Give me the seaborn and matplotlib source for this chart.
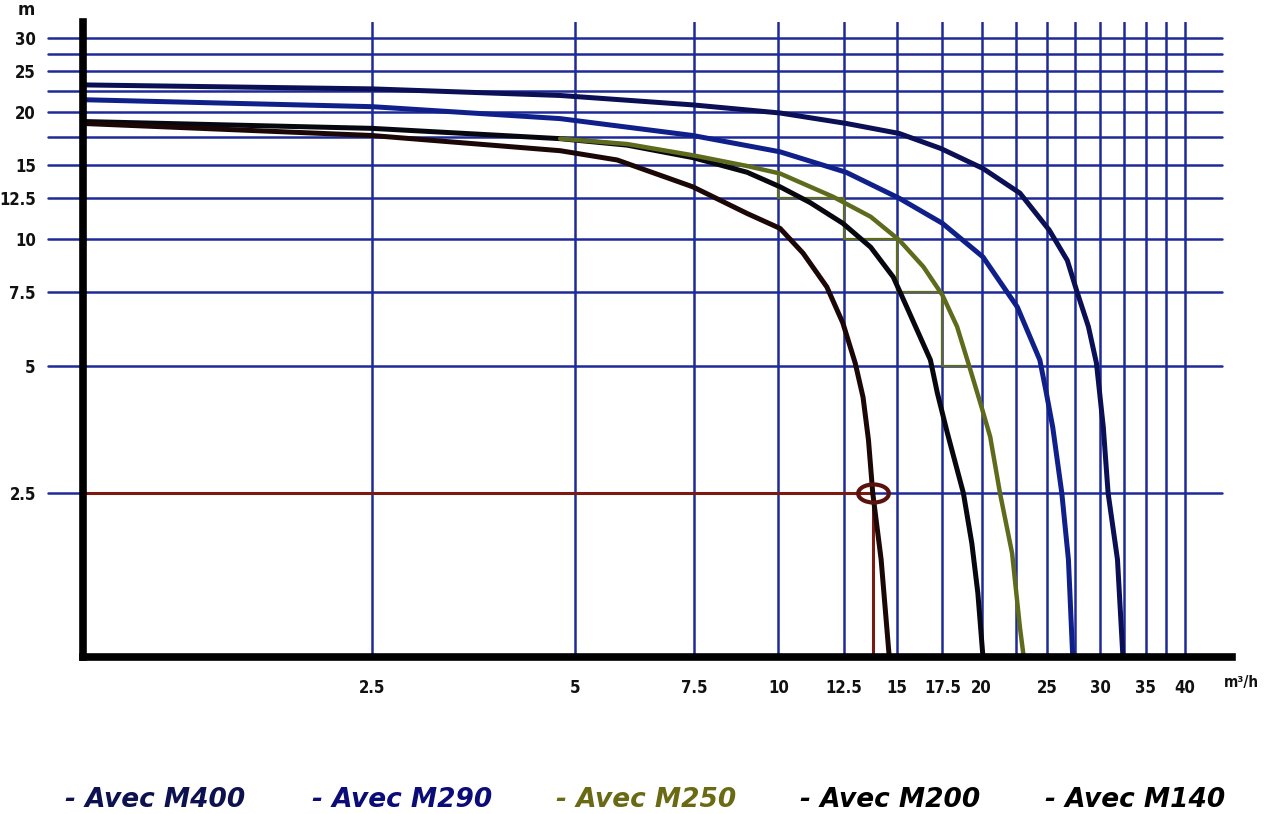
import numpy as np
import pandas as pd
import matplotlib
matplotlib.use("Agg")
import matplotlib.pyplot as plt
import seaborn as sns
from matplotlib.markers import MarkerStyle
from matplotlib.transforms import Affine2D
from matplotlib.ticker import NullLocator, FixedLocator, FixedFormatter

# ---------------- data ----------------
models = ["M400", "M290", "M250", "M200", "M140"]

q_m400 = [0.93, 2.5, 4.75, 7.47, 10.06, 12.6, 15.1, 17.4, 20.1, 22.8, 25.2, 26.8, 27.7, 28.8,
          29.6, 30.3, 30.8, 31.8, 32.4]
h_m400 = [23.2, 22.7, 21.9, 20.8, 19.9, 18.8, 17.8, 16.4, 14.7, 12.85, 10.5, 8.9, 7.5, 6.2,
          5.08, 3.58, 2.5, 1.74, 1.02]

q_m290 = [0.93, 2.5, 4.75, 7.47, 10.06, 12.6, 15.1, 17.5, 20.1, 22.6, 24.4, 24.9, 25.5,
          26.3, 26.9, 27.3]
h_m290 = [21.4, 20.6, 19.3, 17.6, 16.1, 14.4, 12.5, 10.9, 9.07, 6.9, 5.17, 4.39, 3.58,
          2.5, 1.74, 1.02]

q_m250 = [4.75, 5.97, 7.47, 8.99, 10.06, 12.05, 13.7, 15.1, 16.4, 17.5, 18.4, 19.2, 20.0, 20.6,
          21.3, 22.2, 22.8, 23.1]
h_m250 = [17.3, 16.8, 15.8, 14.9, 14.3, 12.6, 11.3, 9.95, 8.6, 7.37, 6.2, 4.97, 4.0, 3.4,
          2.5, 1.80, 1.2, 1.02]

q_m200 = [0.93, 2.5, 4.75, 5.97, 7.47, 8.99, 10.06, 11.15, 12.46, 13.7, 14.8, 15.5, 16.8, 17.2,
          17.8, 18.8, 19.35, 19.75, 20.1]
h_m200 = [19.0, 18.3, 17.3, 16.7, 15.6, 14.4, 13.3, 12.2, 10.9, 9.57, 8.13, 6.9, 5.17, 4.32,
          3.47, 2.5, 1.90, 1.45, 1.02]

q_m140 = [0.93, 2.5, 4.75, 5.77, 7.47, 8.99, 10.06, 10.88, 11.8, 12.46, 13.0, 13.35, 13.6, 13.8,
          14.2, 14.6]
h_m140 = [18.8, 17.6, 16.2, 15.4, 13.3, 11.5, 10.6, 9.26, 7.7, 6.33, 5.08, 4.22, 3.34, 2.5,
          1.74, 1.02]

# olive construction staircase on the M250 curve
step_q = [10.0, 10.0, 12.5, 12.5, 15.0, 15.0, 17.5, 17.5, 19.2]
step_h = [14.3, 12.5, 12.5, 10.0, 10.0, 7.5, 7.5, 5.0, 5.0]

# duty point read on the M140 curve
duty_q = 13.8
duty_h = 2.5

x_ticks = [2.5, 5, 7.5, 10, 12.5, 15, 17.5, 20, 25, 30, 35, 40]
x_tick_labels = ["2.5", "5", "7.5", "10", "12.5", "15", "17.5", "20", "25", "30", "35", "40"]
x_grid = [2.5, 5, 7.5, 10, 12.5, 15, 17.5, 20, 22.5, 25, 27.5, 30, 32.5, 35, 37.5, 40]
y_ticks = [2.5, 5, 7.5, 10, 12.5, 15, 20, 25, 30]
y_tick_labels = ["2.5", "5", "7.5", "10", "12.5", "15", "20", "25", "30"]
y_grid = [2.5, 5, 7.5, 10, 12.5, 15, 17.5, 20, 22.5, 25, 27.5, 30]

legend_labels = ["- Avec M400", "- Avec M290", "- Avec M250", "- Avec M200", "- Avec M140"]

# ---------------- styling ----------------
line_colors = {"M400": "#0b0f55", "M290": "#10208a", "M250": "#5f6b1c",
               "M200": "#07070f", "M140": "#1c0707"}
legend_colors = ["#0d1150", "#0c0c78", "#6a6a14", "#000000", "#000000"]
grid_color = "#1f2a99"

sns.set_style("white")
plt.rcParams['font.family'] = ['DejaVu Sans']

W, H = 1269, 814
fig = plt.figure(figsize=(W / 100, H / 100), dpi=100)
ax_left, ax_right, ax_top, ax_bottom = 83, 1232, 22, 657
ax = fig.add_axes([ax_left / W, 1 - ax_bottom / H, (ax_right - ax_left) / W, (ax_bottom - ax_top) / H])
ax.set_xscale("log")
ax.set_yscale("log")
ax.set_xlim(0.933, 47.0)
ax.set_ylim(1.022, 32.7)

# grid lines
hx_min = (48 - ax_left) / (ax_right - ax_left)
hx_max = (1222 - ax_left) / (ax_right - ax_left)
for yv in y_grid:
    ax.axhline(yv, xmin=hx_min, xmax=hx_max, color=grid_color, lw=1.8, zorder=1, clip_on=False)
for xv in x_grid:
    ax.axvline(xv, color=grid_color, lw=1.8, zorder=1)

# curves
frames = []
for name, qs, hs in [("M400", q_m400, h_m400), ("M290", q_m290, h_m290),
                     ("M200", q_m200, h_m200), ("M140", q_m140, h_m140)]:
    frames.append(pd.DataFrame({"Q": qs, "H": hs, "model": name}))
df = pd.concat(frames, ignore_index=True)
sns.lineplot(data=df, x="Q", y="H", hue="model", palette=line_colors, estimator=None,
             units="model", sort=True, lw=3.6, legend=False, ax=ax, zorder=4,
             solid_joinstyle="round", solid_capstyle="round")

# construction lines
ax.plot(step_q, step_h, color="#5f6b1c", lw=1.6, zorder=3)
ax.plot([0.933, duty_q], [duty_h, duty_h], color="#7a1a10", lw=2.2, zorder=3)
ax.plot([duty_q, duty_q], [duty_h, 1.022], color="#7a1a10", lw=2.2, zorder=3)

df250 = pd.DataFrame({"Q": q_m250, "H": h_m250})
sns.lineplot(data=df250, x="Q", y="H", color=line_colors["M250"], lw=3.2, estimator=None,
             sort=True, ax=ax, zorder=5, solid_joinstyle="round", solid_capstyle="round")

ell = MarkerStyle("o", transform=Affine2D().scale(1.7, 1.0))
ax.plot([duty_q], [duty_h], marker=ell, ms=13, mfc="none", mec="#5a120c", mew=3, zorder=6)

# spines
for s in ["top", "right"]:
    ax.spines[s].set_visible(False)
for s in ["left", "bottom"]:
    ax.spines[s].set_linewidth(5.5)
    ax.spines[s].set_color("black")
    ax.spines[s].set_capstyle("projecting")
    ax.spines[s].set_zorder(7)

# ticks
ax.xaxis.set_minor_locator(NullLocator())
ax.yaxis.set_minor_locator(NullLocator())
ax.xaxis.set_major_locator(FixedLocator(x_ticks))
ax.xaxis.set_major_formatter(FixedFormatter(x_tick_labels))
ax.yaxis.set_major_locator(FixedLocator(y_ticks))
ax.yaxis.set_major_formatter(FixedFormatter(y_tick_labels))
ax.tick_params(axis="x", length=0, pad=16, labelsize=12)
ax.tick_params(axis="y", length=0, pad=34, labelsize=12)
for lab in ax.get_xticklabels() + ax.get_yticklabels():
    lab.set_fontweight("bold")
    lab.set_fontstretch("condensed")
    lab.set_color("#111111")
ax.set_xlabel("")
ax.set_ylabel("")

fig.text(18 / W, 1 - 10 / H, "m", fontsize=12, fontweight="bold", ha="left", va="center", color="#111111")
fig.text(1224 / W, 1 - 683 / H, "m³/h", fontsize=11, fontweight="bold", ha="left", va="center",
         color="#111111", fontstretch="condensed")

legend_x = [65, 312, 556, 800, 1045]
for xl, lab, c in zip(legend_x, legend_labels, legend_colors):
    fig.text(xl / W, 1 - 800 / H, lab, fontsize=19, fontweight="bold", fontstyle="italic",
             color=c, ha="left", va="center")

fig.savefig("out.png", dpi=100, facecolor="white")
